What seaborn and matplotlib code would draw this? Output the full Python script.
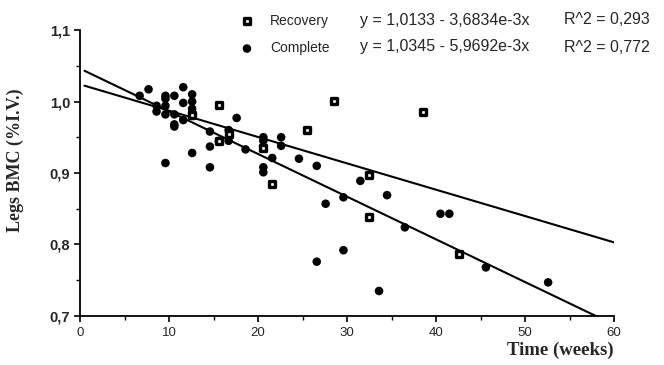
import matplotlib
matplotlib.use("Agg")
import numpy as np
import pandas as pd
import seaborn as sns
import matplotlib.pyplot as plt
from matplotlib.ticker import FuncFormatter, MultipleLocator

# ---------------- data ----------------
complete_weeks = [6.7, 7.7, 8.6, 8.6, 9.6, 9.6, 9.6, 9.6, 9.6, 10.6, 10.6, 10.6, 10.6,
                  11.6, 11.6, 11.6, 12.6, 12.6, 12.6, 12.6, 12.6, 12.6,
                  14.6, 14.6, 14.6, 15.6, 16.7, 16.7, 17.6, 18.6,
                  20.6, 20.6, 20.6, 20.6, 21.6, 22.6, 22.6, 24.6, 26.6,
                  27.6, 29.6, 31.5, 34.5, 36.5, 40.5, 41.5,
                  29.6, 26.6, 33.6, 45.6, 52.6]
complete_bmc = [1.008, 1.017, 0.994, 0.986, 1.008, 1.004, 0.994, 0.982, 0.914, 1.008, 0.982, 0.968, 0.965,
                1.020, 0.998, 0.974, 1.010, 1.000, 0.990, 0.985, 0.980, 0.928,
                0.958, 0.937, 0.908, 0.945, 0.960, 0.945, 0.977, 0.933,
                0.950, 0.945, 0.908, 0.901, 0.921, 0.950, 0.938, 0.920, 0.910,
                0.857, 0.866, 0.889, 0.869, 0.824, 0.843, 0.843,
                0.792, 0.776, 0.735, 0.768, 0.747]

recovery_weeks = [12.6, 15.6, 15.6, 16.7, 20.6, 21.6, 25.5, 28.5, 32.5, 32.5, 38.5, 42.6]
recovery_bmc = [0.981, 0.995, 0.945, 0.954, 0.935, 0.885, 0.960, 1.001, 0.897, 0.838, 0.985, 0.787]

series_names = ["Recovery", "Complete"]
fit_intercepts = [1.024, 1.046]
fit_slopes = [-0.0036834, -0.0059692]
fit_range = [0.5, 60]
equation_texts = ["y = 1,0133 - 3,6834e-3x", "y = 1,0345 - 5,9692e-3x"]
r2_texts = ["R^2 = 0,293", "R^2 = 0,772"]

x_ticks = [0, 10, 20, 30, 40, 50, 60]
y_ticks = [0.7, 0.8, 0.9, 1.0, 1.1]
x_label = "Time (weeks)"
y_label = "Legs BMC (%I.V.)"

# ---------------- figure ----------------
sns.set_style("ticks")
plt.rcParams["font.family"] = ["Liberation Sans", "DejaVu Sans"]

W, H = 664, 365
fig = plt.figure(figsize=(W / 100, H / 100), dpi=100)
ax = fig.add_axes([80 / W, 1 - 316 / H, (614 - 80) / W, (316 - 30) / H])

df_c = pd.DataFrame({"weeks": complete_weeks, "bmc": complete_bmc})
df_r = pd.DataFrame({"weeks": recovery_weeks, "bmc": recovery_bmc})

# regression lines
for b0, b1 in zip(fit_intercepts, fit_slopes):
    xs = np.array(fit_range, dtype=float)
    sns.lineplot(x=xs, y=b0 + b1 * xs, ax=ax, color="black", lw=1.5, zorder=2)

sns.scatterplot(data=df_c, x="weeks", y="bmc", ax=ax, marker="o", s=38,
                color="black", edgecolor="none", label=series_names[1], zorder=3)
sns.scatterplot(data=df_r, x="weeks", y="bmc", ax=ax, marker="s", s=17,
                facecolor="white", edgecolor="black", linewidths=2.4,
                label=series_names[0], zorder=4)

ax.set_xlim(x_ticks[0], x_ticks[-1])
ax.set_ylim(y_ticks[0], y_ticks[-1])
ax.set_xticks(x_ticks)
ax.set_yticks(y_ticks)
ax.xaxis.set_minor_locator(MultipleLocator(5))
ax.yaxis.set_minor_locator(MultipleLocator(0.05))
ax.yaxis.set_major_formatter(FuncFormatter(lambda v, p: f"{v:.1f}".replace(".", ",")))
ax.tick_params(axis="both", which="major", direction="out", length=4, width=1.2, color="black")
ax.tick_params(axis="both", which="minor", direction="out", length=3, width=1.0, color="black")
ax.tick_params(axis="y", labelsize=10.5, pad=3)
ax.tick_params(axis="x", labelsize=9.5, pad=4)
for lab in ax.get_yticklabels():
    lab.set_fontweight("bold")
for s in ["left", "bottom"]:
    ax.spines[s].set_linewidth(1.3)
    ax.spines[s].set_color("black")
sns.despine(ax=ax)

serif = ["Liberation Serif", "DejaVu Serif"]
ax.set_xlabel(x_label, family=serif, fontweight="bold", fontsize=13.5, loc="right", labelpad=2)
ax.set_ylabel(y_label, family=serif, fontweight="bold", fontsize=13)
ax.yaxis.set_label_coords(-0.104, 0.545)

# legend
handles, labels = ax.get_legend_handles_labels()
order = [labels.index(n) for n in series_names]
ax.legend([handles[i] for i in order], [labels[i] for i in order],
          loc="upper left", bbox_to_anchor=(240 / W, 1 - 14 / H), bbox_transform=fig.transFigure,
          frameon=False, fontsize=10, handlelength=1.0, handletextpad=1.15,
          labelspacing=0.95, borderpad=0, borderaxespad=0)

row_y = [20, 47]
for t, r, yy in zip(equation_texts, r2_texts, row_y):
    fig.text(360 / W, 1 - yy / H, t, fontsize=11.5, va="center", ha="left")
    fig.text(564 / W, 1 - yy / H, r, fontsize=11.5, va="center", ha="left")

fig.savefig("out.png", dpi=100)
